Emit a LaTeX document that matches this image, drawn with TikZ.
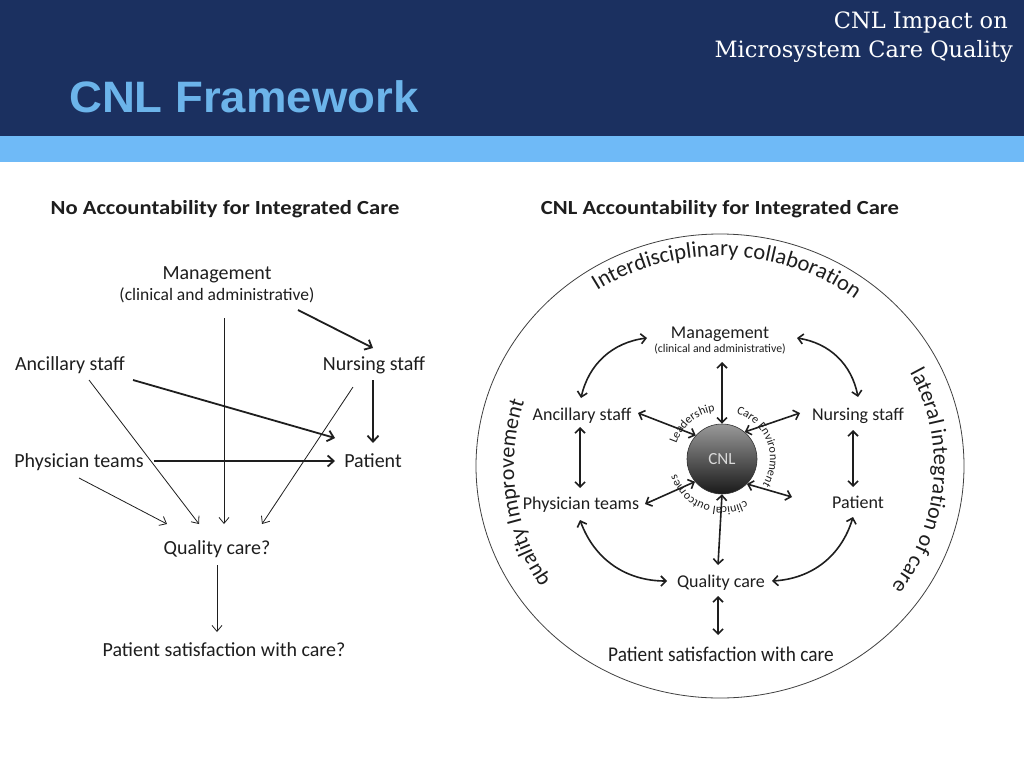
\documentclass[tikz,border=0pt]{standalone}
\usepackage{fontspec}
\setmainfont{Carlito}
\newfontfamily\hdfont{Liberation Sans}
\newfontfamily\srfont{DejaVu Serif}
\usetikzlibrary{arrows.meta,decorations.text,calc}
\definecolor{navy}{HTML}{1B3060}
\definecolor{band}{HTML}{6FBAF7}
\definecolor{ttl}{HTML}{6CB4EA}
\definecolor{ink}{HTML}{1E1E1E}
\begin{document}
\begin{tikzpicture}[x=1pt,y=1pt,
  lblL/.style={inner sep=0pt, text=ink, text height=17pt, text depth=4pt, font=\fontsize{20}{22}\selectfont},
  subL/.style={inner sep=0pt, text=ink, text height=12pt, text depth=4pt, font=\fontsize{17.5}{19}\selectfont},
  lblR/.style={inner sep=0pt, text=ink, text height=17pt, text depth=4pt, font=\fontsize{18}{20}\selectfont},
  subR/.style={inner sep=0pt, text=ink, text height=9.4pt, text depth=4pt, font=\fontsize{11.8}{13}\selectfont},
  headT/.style={inner sep=0pt, text=ink, font=\bfseries\fontsize{20}{22}\selectfont},
  thinar/.style={draw=ink, line width=0.8pt, -{Straight Barb[length=6pt,width=10pt]}},
  thickar/.style={draw=ink, line width=1.8pt, -{Straight Barb[length=6pt,width=11pt]}},
  dblar/.style={draw=ink, line width=1.6pt, {Straight Barb[length=5pt,width=10pt]}-{Straight Barb[length=5pt,width=10pt]}},
  arctext/.style={decorate, decoration={text along path, text format delimiters={|}{|}, text align=center, text color=ink}}
]
\useasboundingbox (0,0) rectangle (1024,-768);
\fill[white] (0,0) rectangle (1024,-768);
\fill[navy] (0,0) rectangle (1024,-136);
\fill[band] (0,-136) rectangle (1024,-162);
\node[anchor=west, inner sep=0pt, text=ttl, font=\hdfont\bfseries\fontsize{44}{44}\selectfont] (title) at (69,-97) {\scalebox{1.035}[1]{CNL Framework}};
\node[anchor=base east, inner sep=0pt, text=white, font=\srfont\fontsize{22.5}{24}\selectfont] (sub1) at (1008,-29) {CNL Impact on};
\node[anchor=base east, inner sep=0pt, text=white, font=\srfont\fontsize{22.5}{24}\selectfont] (sub2) at (1013,-58) {Microsystem Care Quality};

% ---------- left diagram ----------
\node[headT] (tL) at (225,-209) {\scalebox{1.13}[1]{No Accountability for Integrated Care}};
\node[lblL] (mL) at (217,-273) {Management};
\node[subL] (mLs) at (217,-296) {(clinical and administrative)};
\node[lblL] (aL) at (70,-364) {Ancillary staff};
\node[lblL] (nL) at (374,-364) {Nursing staff};
\node[lblL] (phL) at (79,-461) {Physician teams};
\node[lblL] (paL) at (373,-461) {Patient};
\node[lblL] (qL) at (217,-548) {Quality care?};
\node[lblL] (sL) at (224,-650) {Patient satisfaction with care?};

\draw[thickar] ([shift={(81,-14)}]mLs.center) -- ([shift={(-1,16)}]nL.center);
\draw[thinar] ([shift={(7,-22)}]mLs.center) -- ([shift={(7,24)}]qL.center);
\draw[thickar] ([shift={(63,-16)}]aL.center) -- ([shift={(-38,23)}]paL.center);
\draw[thinar] ([shift={(19,-16)}]aL.center) -- ([shift={(-18,24)}]qL.center);
\draw[thickar] ([shift={(-1,-16)}]nL.center) -- ([shift={(0,18)}]paL.center);
\draw[thinar] ([shift={(-21,-23)}]nL.center) -- ([shift={(45,24)}]qL.center);
\draw[thickar] ([shift={(75,0)}]phL.center) -- ([shift={(-38,0)}]paL.center);
\draw[thinar] ([shift={(0,-17)}]phL.center) -- ([shift={(-50,24)}]qL.center);
\draw[thinar] ([shift={(0,-17)}]qL.center) -- ([shift={(-7,18)}]sL.center);

% ---------- right diagram ----------
\node[headT] (tR) at (720,-209) {\scalebox{1.13}[1]{CNL Accountability for Integrated Care}};
\coordinate (E) at (720,-466);
\draw[line width=0.8pt, black!75] (E) ellipse [x radius=244pt, y radius=232pt];
\path[arctext, decoration={text={|\fontsize{22.5}{23}\selectfont|Interdisciplinary collaboration}}]
  ($(E)+(150:222pt and 210pt)$) arc[start angle=150, end angle=26, x radius=222pt, y radius=210pt];
\path[arctext, decoration={text={|\fontsize{22}{22}\selectfont|lateral integration of care}}]
  ($(E)+(55:214pt and 202pt)$) arc[start angle=55, end angle=-64, x radius=214pt, y radius=202pt];
\path[arctext, decoration={text={|\fontsize{22}{22}\selectfont|quality Improvement}}]
  ($(E)+(248:206pt)$) arc[start angle=248, end angle=128, radius=206pt];

\node[lblR] (mR) at (720,-332) {Management};
\node[subR] (mRs) at (720,-350) {(clinical and administrative)};
\node[lblR] (aR) at (582,-414) {Ancillary staff};
\node[lblR] (nR) at (858,-414) {Nursing staff};
\node[lblR] (phR) at (581,-503) {Physician teams};
\node[lblR] (paR) at (858,-502) {Patient};
\node[lblR] (qR) at (721,-581) {Quality care};
\node[lblR, font=\fontsize{21}{23}\selectfont, text height=17.4pt] (sR) at (721,-655) {\scalebox{0.92}[1]{Patient satisfaction with care}};

\node[circle, minimum size=70pt, inner sep=0pt, draw=black!80, line width=0.6pt,
      top color=black!40, bottom color=black!90, text=black!15,
      font=\fontsize{17}{17}\selectfont] (cnl) at (722,-459) {CNL};
\coordinate (B) at (722,-459);
\path[arctext, decoration={text={|\fontsize{12}{12}\selectfont|Leadership}}]
  ($(B)+(200:48pt)$) arc[start angle=200, end angle=60, radius=48pt];
\path[arctext, decoration={text={|\fontsize{12}{12}\selectfont|Care Environment}}]
  ($(B)+(95:48pt)$) arc[start angle=95, end angle=-55, radius=48pt];
\path[arctext, decoration={text={|\fontsize{12}{12}\selectfont|clinical outcomes}}]
  ($(B)+(-36:48pt)$) arc[start angle=-36, end angle=-186, radius=48pt];

\draw[dblar] ([shift={(-73,-6)}]mR.center) to[bend right=35] ([shift={(-1,16)}]aR.center);
\draw[dblar] ([shift={(77,-6)}]mR.center) to[bend left=35] ([shift={(0,17)}]nR.center);
\draw[dblar] ([shift={(2,-12)}]mRs.center) -- (cnl.north);
\draw[dblar] ([shift={(56,1)}]aR.center) -- (cnl.138);
\draw[dblar] ([shift={(-58,1)}]nR.center) -- (cnl.50);
\draw[dblar] ([shift={(64,-1)}]phR.center) -- (cnl.220);
\draw[dblar] (cnl.-45) -- ([shift={(-66,5)}]paR.center);
\draw[dblar] (cnl.south) -- ([shift={(-3,16)}]qR.center);
\draw[dblar] ([shift={(-2,-13)}]aR.center) -- ([shift={(-1,15)}]phR.center);
\draw[dblar] ([shift={(-5,-16)}]nR.center) -- ([shift={(-5,15)}]paR.center);
\draw[dblar] ([shift={(-1,-17)}]phR.center) to[bend right=35] ([shift={(-54,0)}]qR.center);
\draw[dblar] ([shift={(-5,-15)}]paR.center) to[bend left=35] ([shift={(51,0)}]qR.center);
\draw[dblar] ([shift={(-3,-15)}]qR.center) -- ([shift={(-3,20)}]sR.center);
\end{tikzpicture}
\end{document}
